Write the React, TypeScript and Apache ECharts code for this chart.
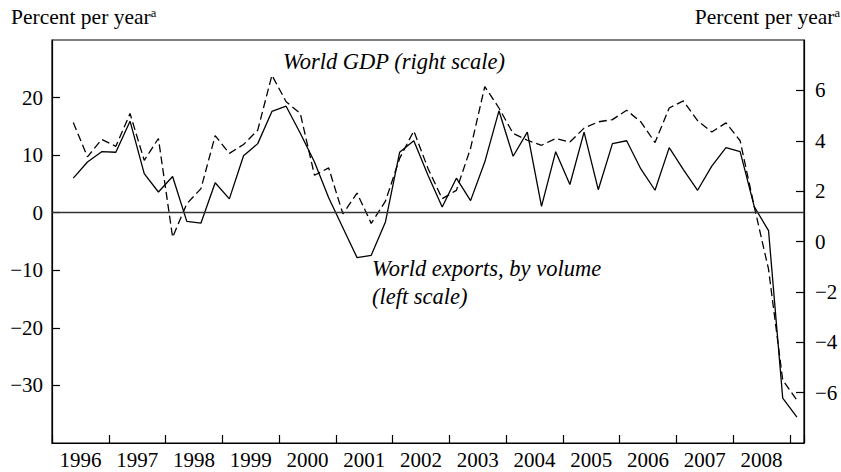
import React, { useEffect, useRef } from "react";
import * as echarts from "echarts";

// Quarterly observations, 1996Q2 .. 2009Q1
const quarters: string[] = [];
for (let y = 1996; y <= 2009; y++) {
  for (let q = 1; q <= 4; q++) {
    if ((y === 1996 && q === 1) || (y === 2009 && q > 1)) continue;
    quarters.push(`${y}Q${q}`);
  }
}

// World exports, by volume (left scale, percent per year)
const worldExports = [
  6.0, 8.8, 10.6, 10.5, 15.9, 6.8, 3.6, 6.3, -1.5, -1.8,
  5.2, 2.4, 9.9, 12.0, 17.6, 18.5, 13.8, 8.8, 2.6, -2.6,
  -7.8, -7.4, -1.6, 10.5, 12.5, 6.5, 1.0, 6.0, 2.1, 8.8,
  17.7, 9.8, 14.0, 1.1, 10.6, 4.9, 14.0, 4.0, 12.0, 12.5,
  7.6, 3.9, 11.3, 7.5, 3.9, 8.1, 11.3, 10.6, 1.0, -3.1,
  -32.2, -35.5,
];

// World GDP (right scale, percent per year)
const worldGDP = [
  4.72, 3.36, 4.05, 3.78, 5.08, 3.22, 4.09, 0.17, 1.5, 2.1,
  4.2, 3.5, 3.85, 4.42, 6.6, 5.55, 5.08, 2.63, 2.92, 1.1,
  1.92, 0.72, 1.6, 3.3, 4.39, 2.9, 1.7, 2.03, 3.7, 6.15,
  5.3, 4.29, 4.02, 3.82, 4.09, 3.95, 4.5, 4.75, 4.84, 5.21,
  4.75, 3.93, 5.3, 5.58, 4.8, 4.35, 4.71, 4.0, 1.37, -1.1,
  -5.5, -6.3,
];

const yearLabels = [
  "1996", "1997", "1998", "1999", "2000", "2001", "2002",
  "2003", "2004", "2005", "2006", "2007", "2008",
];

const leftTicks = { min: -40, max: 30, interval: 10 };
const rightTicks = { min: -8, max: 8, interval: 2 };

const FONT = "Liberation Serif";

function quarterPos(label: string): number {
  const y = parseInt(label.slice(0, 4), 10);
  const q = parseInt(label.slice(5), 10);
  return (y - 1996) * 4 + (q - 1) + 0.5;
}

function minus(v: number): string {
  return v < 0 ? "\u2212" + Math.abs(v) : String(v);
}

export default function App() {
  const ref = useRef<HTMLDivElement>(null);
  useEffect(() => {
    if (!ref.current) return;
    const chart = echarts.init(ref.current, undefined, { renderer: "svg" });
    const exportsData = quarters.map((q, i) => [quarterPos(q), worldExports[i]]);
    const gdpData = quarters.map((q, i) => [quarterPos(q), worldGDP[i]]);
    const tickLen = 8;
    const axisLineStyle = { color: "#000", width: 1.2 };
    const textBase = { fill: "#000", fontFamily: FONT, fontSize: 21.5 };
    const noteBase = { fill: "#000", fontFamily: FONT, fontSize: 22.5, fontStyle: "italic" };
    chart.setOption({
      animation: false,
      backgroundColor: "#fff",
      grid: {
        left: 52,
        right: 37,
        top: 40,
        bottom: 29,
        show: true,
        borderColor: "#000",
        borderWidth: 1.2,
        containLabel: false,
      },
      xAxis: [
        {
          type: "value",
          min: 0,
          max: 53,
          interval: 4,
          position: "bottom",
          axisLine: { show: true, onZero: false, lineStyle: axisLineStyle },
          axisTick: { show: true, inside: true, length: tickLen, lineStyle: axisLineStyle },
          axisLabel: { show: false },
          splitLine: { show: false },
        },
        {
          type: "value",
          min: 0,
          max: 53,
          interval: 2,
          position: "bottom",
          axisLine: { show: false, onZero: false },
          axisTick: { show: false },
          splitLine: { show: false },
          axisLabel: {
            show: true,
            margin: 6,
            color: "#000",
            fontSize: 21,
            fontFamily: FONT,
            showMinLabel: false,
            showMaxLabel: false,
            formatter: (v: number) => {
              const idx = (v - 2) / 4;
              return Number.isInteger(idx) && idx >= 0 && idx < yearLabels.length
                ? yearLabels[idx]
                : "";
            },
          },
        },
      ],
      yAxis: [
        {
          type: "value",
          position: "left",
          ...leftTicks,
          axisLine: { show: true, onZero: false, lineStyle: axisLineStyle },
          axisTick: { show: true, inside: true, length: tickLen, lineStyle: axisLineStyle },
          splitLine: { show: false },
          axisLabel: {
            color: "#000",
            fontSize: 21,
            fontFamily: FONT,
            margin: 9,
            showMinLabel: false,
            showMaxLabel: false,
            formatter: minus,
          },
        },
        {
          type: "value",
          position: "right",
          ...rightTicks,
          axisLine: { show: true, onZero: false, lineStyle: axisLineStyle },
          axisTick: { show: true, inside: true, length: tickLen, lineStyle: axisLineStyle },
          splitLine: { show: false },
          axisLabel: {
            color: "#000",
            fontSize: 21,
            fontFamily: FONT,
            margin: 11,
            showMinLabel: false,
            showMaxLabel: false,
            formatter: minus,
          },
        },
      ],
      series: [
        {
          name: "World exports, by volume (left scale)",
          type: "line",
          xAxisIndex: 0,
          yAxisIndex: 0,
          data: exportsData,
          symbol: "none",
          lineStyle: { color: "#000", width: 1.3 },
          markLine: {
            silent: true,
            symbol: "none",
            label: { show: false },
            lineStyle: { color: "#333", width: 1.4, type: "solid" },
            data: [{ yAxis: 0 }],
          },
          z: 3,
        },
        {
          name: "World GDP (right scale)",
          type: "line",
          xAxisIndex: 0,
          yAxisIndex: 1,
          data: gdpData,
          symbol: "none",
          lineStyle: { color: "#000", width: 1.3, type: [8, 4] },
          z: 2,
        },
      ],
      graphic: [
        {
          type: "text",
          left: 11,
          top: 6,
          style: {
            text: "Percent per year{sup|a}",
            ...textBase,
            rich: { sup: { fontSize: 12.5, fontFamily: FONT, fill: "#000", padding: [0, 0, 9, 0] } },
          },
        },
        {
          type: "text",
          right: 1,
          top: 6,
          style: {
            text: "Percent per year{sup|a}",
            ...textBase,
            rich: { sup: { fontSize: 12.5, fontFamily: FONT, fill: "#000", padding: [0, 0, 9, 0] } },
          },
        },
        {
          type: "text",
          left: 283,
          top: 50,
          style: { text: "World GDP (right scale)", ...noteBase },
        },
        {
          type: "text",
          left: 372,
          top: 257,
          style: { text: "World exports, by volume", ...noteBase },
        },
        {
          type: "text",
          left: 372,
          top: 285,
          style: { text: "(left scale)", ...noteBase },
        },
      ],
    });
    return () => chart.dispose();
  }, []);
  return (
    <div
      ref={ref}
      style={{ position: "fixed", left: 0, top: 0, width: 841, height: 472, background: "#fff" }}
    />
  );
}
